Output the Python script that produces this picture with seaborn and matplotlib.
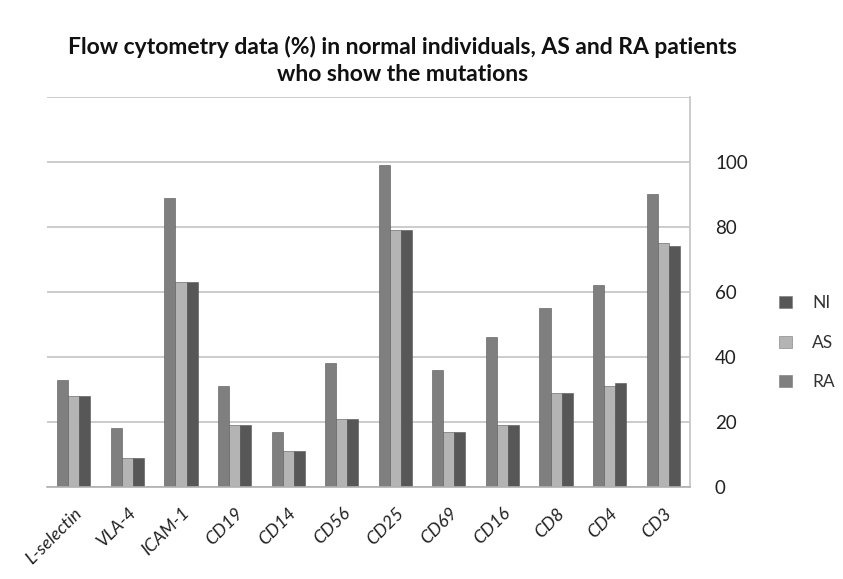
import matplotlib
matplotlib.use("Agg")
import matplotlib.pyplot as plt
import seaborn as sns
import pandas as pd
from matplotlib.patches import Patch

categories = ["L-selectin", "VLA-4", "ICAM-1", "CD19", "CD14", "CD56",
              "CD25", "CD69", "CD16", "CD8", "CD4", "CD3"]
ra_values = [33, 18, 89, 31, 17, 38, 99, 36, 46, 55, 62, 90]
as_values = [28, 9, 63, 19, 11, 21, 79, 17, 19, 29, 31, 75]
ni_values = [28, 9, 63, 19, 11, 21, 79, 17, 19, 29, 32, 74]
series_order = ["RA", "AS", "NI"]
legend_order = ["NI", "AS", "RA"]
y_ticks = [0, 20, 40, 60, 80, 100]

colors = {"RA": "#7f7f7f", "AS": "#b4b4b4", "NI": "#575757"}

rows = []
for name, vals in zip(series_order, [ra_values, as_values, ni_values]):
    for c, v in zip(categories, vals):
        rows.append({"category": c, "series": name, "value": v})
df = pd.DataFrame(rows)

sns.set_theme(style="white")
plt.rcParams["font.family"] = ["Lato", "DejaVu Sans"]

fig = plt.figure(figsize=(8.43, 5.79), dpi=100)
ax = fig.add_axes([0.0558, 0.1589, 0.7627, 0.6736])

sns.barplot(data=df, x="category", y="value", hue="series",
            hue_order=series_order, order=categories, palette=colors,
            width=0.62, dodge=True, ax=ax, legend=False,
            edgecolor="#555555", linewidth=0.4, saturation=1)

ax.set_ylim(0, 120)
ax.set_xlim(-0.5, len(categories) - 0.5)
ax.set_yticks([0, 20, 40, 60, 80, 100, 120])
ax.set_yticklabels([str(t) for t in y_ticks] + [""])
ax.yaxis.tick_right()
ax.tick_params(axis="y", length=0, pad=18, labelsize=13.5, labelcolor="#222222")
ax.grid(axis="y", color="#c4c4c4", linewidth=1.2)
ax.set_axisbelow(True)
ax.spines["left"].set_visible(False)
ax.spines["top"].set_visible(False)
ax.spines["right"].set_color("#c4c4c4")
ax.spines["right"].set_linewidth(1.2)
ax.spines["bottom"].set_color("#b0b0b0")
ax.spines["bottom"].set_linewidth(1.2)

ax.set_xlabel("")
ax.set_ylabel("")
ax.tick_params(axis="x", length=0, pad=13)
ax.set_xticks(range(len(categories)))
ax.set_xticklabels(categories, rotation=45, ha="right", rotation_mode="anchor",
                   fontsize=13, style="italic", color="#222222")

handles = [Patch(facecolor=colors[s], edgecolor="#777777", linewidth=0.4) for s in legend_order]
fig.legend(handles, legend_order, loc="center left", bbox_to_anchor=(0.906, 0.408),
           frameon=False, fontsize=12.5, handlelength=0.7, handleheight=0.7,
           labelspacing=1.35, handletextpad=1.2, labelcolor="#333333")

fig.text(0.477, 0.938, "Flow cytometry data (%) in normal individuals, AS and RA patients\nwho show the mutations",
         ha="center", va="top", fontsize=16.5, fontweight="bold", linespacing=1.35, color="#111111")

fig.savefig("out.png", dpi=100, facecolor="white")
